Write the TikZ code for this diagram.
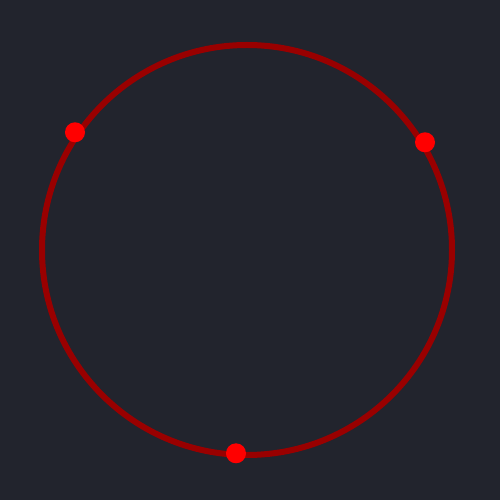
\documentclass[tikz,border=0pt]{standalone}
\definecolor{bg}{HTML}{22242D}
\definecolor{ring}{HTML}{990000}
\definecolor{dot}{HTML}{FF0000}
\begin{document}
\begin{tikzpicture}[x=1pt,y=1pt,
  ringstyle/.style={draw=ring,line width=6pt},
  dotstyle/.style={circle,fill=dot,inner sep=0pt,minimum size=20pt}]
\fill[bg] (0,0) rectangle (500,500);
\useasboundingbox (0,0) rectangle (500,500);
\coordinate (c) at (247,250);
\draw[ringstyle] (c) circle[radius=205];
\node[dotstyle] (d1) at (75,367.7) {};
\node[dotstyle] (d2) at (425,357.7) {};
\node[dotstyle] (d3) at (236,46.7) {};
\end{tikzpicture}
\end{document}
